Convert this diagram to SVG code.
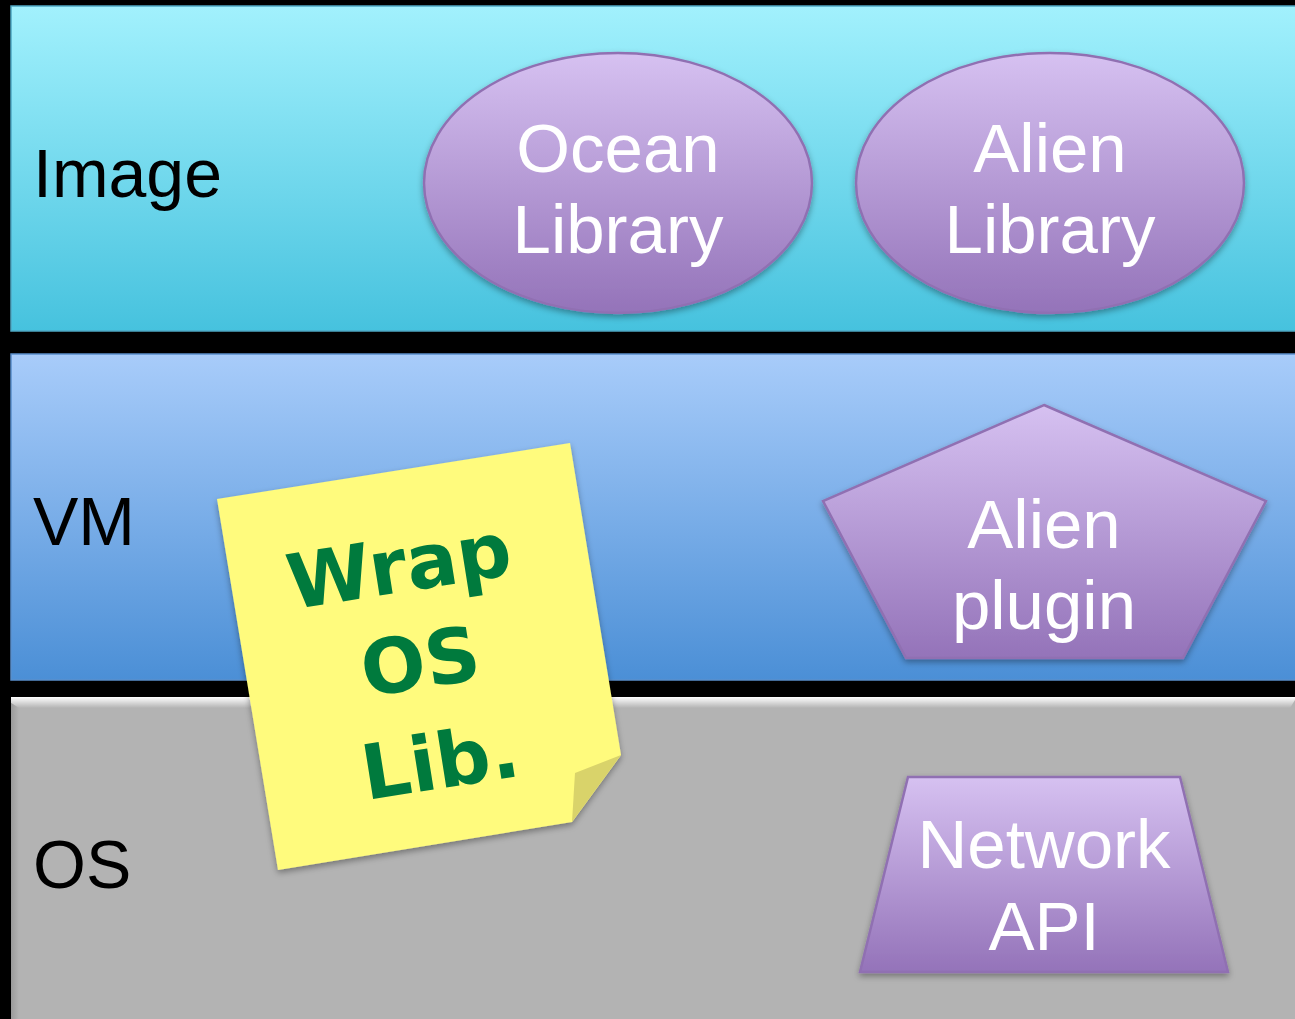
<svg xmlns="http://www.w3.org/2000/svg" width="1295" height="1019" viewBox="0 0 1295 1019">
<defs>
<linearGradient id="gImg" x1="0" y1="0" x2="0" y2="1"><stop offset="0" stop-color="#A2F1FD"/><stop offset="1" stop-color="#46C2DE"/></linearGradient>
<linearGradient id="gVM" x1="0" y1="0" x2="0" y2="1"><stop offset="0" stop-color="#A8CCFA"/><stop offset="1" stop-color="#4B8FD6"/></linearGradient>
<linearGradient id="gOSTop" x1="0" y1="0" x2="0" y2="1"><stop offset="0" stop-color="#FFFFFF"/><stop offset="1" stop-color="#B3B3B3"/></linearGradient>
<linearGradient id="gOSLeft" x1="0" y1="0" x2="1" y2="0"><stop offset="0" stop-color="#9A9A9A"/><stop offset="1" stop-color="#B3B3B3"/></linearGradient>
<linearGradient id="gPur" x1="0" y1="0" x2="0" y2="1"><stop offset="0" stop-color="#D6C1F1"/><stop offset="1" stop-color="#9473B9"/></linearGradient>
<filter id="sh" x="-10%" y="-10%" width="120%" height="130%"><feDropShadow dx="0" dy="3" stdDeviation="3" flood-color="#000" flood-opacity="0.35"/></filter>
<style>
.lbl{font-family:"Liberation Sans",Arial,sans-serif;font-size:68px;fill:#000}
.wt{font-family:"Liberation Sans",Arial,sans-serif;font-size:69px;fill:#fff;text-anchor:middle}
.pur{fill:url(#gPur);stroke:#9070B2;stroke-width:2.5}
.note{font-family:"Comic Sans MS","DejaVu Sans",sans-serif;font-weight:bold;font-size:76px;fill:#007A3D;text-anchor:middle}
</style>
</defs>
<rect width="1295" height="1019" fill="#000"/>
<g id="band-image">
<rect x="11" y="6" width="1290" height="325" fill="url(#gImg)" stroke="#4FA8C4" stroke-width="1.5"/>
<text class="lbl" x="33" y="197">Image</text>
</g>
<g id="band-vm">
<rect x="11" y="354" width="1290" height="326" fill="url(#gVM)" stroke="#5A8FCB" stroke-width="1.5"/>
<text class="lbl" x="33" y="545">VM</text>
</g>
<g id="band-os">
<rect x="11" y="697" width="1290" height="330" fill="#B3B3B3"/>
<polygon points="11,697 1295,697 1295,700 1290,708 19,708 11,703" fill="url(#gOSTop)"/>
<polygon points="11,703 19,708 19,1019 11,1019" fill="url(#gOSLeft)"/>
<text class="lbl" x="33" y="888">OS</text>
</g>
<g id="connectors"></g>
<g id="ocean-library">
<ellipse class="pur" cx="618" cy="183" rx="194" ry="130" filter="url(#sh)"/>
<text class="wt" x="618" y="172">Ocean</text>
<text class="wt" x="618" y="253">Library</text>
</g>
<g id="alien-library">
<ellipse class="pur" cx="1050" cy="183" rx="194" ry="130" filter="url(#sh)"/>
<text class="wt" x="1050" y="172">Alien</text>
<text class="wt" x="1050" y="253">Library</text>
</g>
<g id="alien-plugin">
<polygon class="pur" points="1044,405 1266,501 1183,658 906,658 823,501" filter="url(#sh)"/>
<text class="wt" x="1044" y="548">Alien</text>
<text class="wt" x="1044" y="629">plugin</text>
</g>
<g id="network-api">
<polygon class="pur" points="908,777 1180,777 1228,972 860,972" filter="url(#sh)"/>
<text class="wt" x="1044" y="868">Network</text>
<text class="wt" x="1044" y="950">API</text>
</g>
<g id="sticky-note">
<polygon points="217,499 570,443 621,755 572,822 278,870" fill="#FFFB7D" filter="url(#sh)"/>
<polygon points="621,755 575,773 572,822" fill="#D9D36A"/>
<g transform="rotate(-9 420 660)">
<text class="note" x="414" y="590">Wrap</text>
<text class="note" x="420" y="688">OS</text>
<text class="note" x="424" y="790">Lib.</text>
</g>
</g>
</svg>
